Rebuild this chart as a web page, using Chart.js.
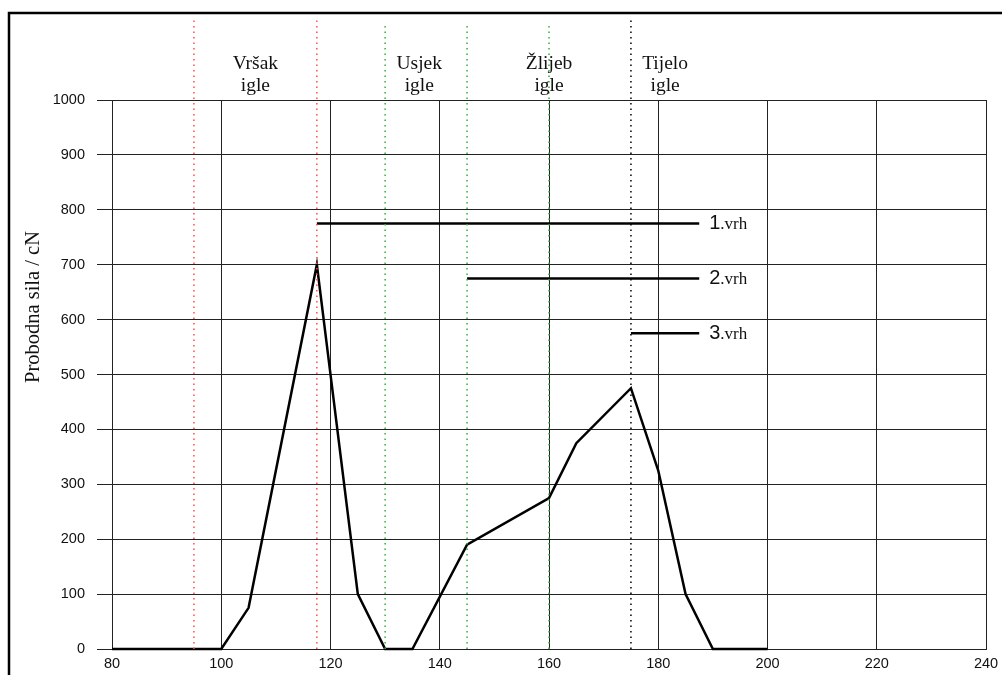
<!DOCTYPE html>
<html>
<head>
<meta charset="utf-8">
<script src="https://cdn.jsdelivr.net/npm/chart.js@4"></script>
<style>
  body { margin: 0; background: #fff; }
  canvas { display: block; }
</style>
</head>
<body>
<canvas id="chart" width="1002" height="675"></canvas>
<script>
// measured force curve (x = position, y = force in cN)
const forceX = [80, 100, 105, 117.5, 125, 130, 135, 145, 160, 165, 175, 180, 185, 190, 200];
const forceY = [0, 0, 75, 700, 100, 0, 0, 190, 275, 375, 475, 325, 100, 0, 0];

// horizontal peak markers
const peakNames = ['1', '2', '3'];
const peakStart = [117.5, 145, 175];
const peakEnd = [187.5, 187.5, 187.5];
const peakLevel = [775, 675, 575];

// vertical zone boundaries
const zoneLineX = [95, 117.5, 130, 145, 160, 175];
const zoneLineTop = [1150, 1150, 1140, 1140, 1140, 1150];
const zoneLineColor = ['#ff4d4d', '#ff4d4d', '#33b033', '#33b033', '#33b033', '#000000'];

// zone names above the plot
const zoneNames = [['Vršak', 'igle'], ['Usjek', 'igle'], ['Žlijeb', 'igle'], ['Tijelo', 'igle']];
const zoneNameX = [106.25, 136.25, 160, 181.25];
const zoneNameY = [1068, 1028];

const xTicks = { min: 80, max: 240, step: 20 };
const yTicks = { min: 0, max: 1000, step: 100 };
const yTitle = 'Probodna sila / cN';

const datasets = [];

zoneLineX.forEach((x, i) => {
    datasets.push({
        data: [{ x: x, y: 0 }, { x: x, y: zoneLineTop[i] }],
        borderColor: zoneLineColor[i],
        borderWidth: 1.5,
        borderDash: [1.5, 4],
        pointRadius: 0,
        showLine: true,
        clip: false
    });
});

peakNames.forEach((n, i) => {
    datasets.push({
        data: [{ x: peakStart[i], y: peakLevel[i] }, { x: peakEnd[i], y: peakLevel[i] }],
        borderColor: '#000',
        borderWidth: 2.5,
        pointRadius: 0,
        showLine: true
    });
});

datasets.push({
    data: forceX.map((x, i) => ({ x: x, y: forceY[i] })),
    borderColor: '#000',
    borderWidth: 2.5,
    pointRadius: 0,
    showLine: true,
    tension: 0,
    clip: false
});

const textPlugin = {
    id: 'textPlugin',
    afterDraw(chart) {
        const ctx = chart.ctx;
        const xs = chart.scales.x;
        const ys = chart.scales.y;
        ctx.save();

        // frame around the figure
        ctx.strokeStyle = '#000';
        ctx.lineWidth = 2.5;
        ctx.beginPath();
        ctx.moveTo(9, 680);
        ctx.lineTo(9, 13);
        ctx.lineTo(1010, 13);
        ctx.stroke();

        // zone names
        ctx.fillStyle = '#111';
        ctx.font = '19.5px "Liberation Serif"';
        ctx.textAlign = 'center';
        ctx.textBaseline = 'alphabetic';
        zoneNames.forEach((lines, i) => {
            const px = xs.getPixelForValue(zoneNameX[i]);
            lines.forEach((t, j) => {
                ctx.fillText(t, px, ys.getPixelForValue(zoneNameY[j]) + 6);
            });
        });

        // peak labels
        ctx.textAlign = 'left';
        ctx.textBaseline = 'middle';
        peakNames.forEach((n, i) => {
            let px = xs.getPixelForValue(peakEnd[i]) + 10;
            const py = ys.getPixelForValue(peakLevel[i]);
            ctx.font = '20px "Liberation Sans"';
            ctx.fillText(n, px, py);
            px += ctx.measureText(n).width;
            ctx.font = '17px "Liberation Serif"';
            ctx.fillText('.vrh', px, py + 1);
        });

        // y axis title
        ctx.font = '20.5px "Liberation Serif"';
        ctx.textAlign = 'center';
        ctx.textBaseline = 'middle';
        ctx.translate(34, 307);
        ctx.rotate(-Math.PI / 2);
        ctx.fillText(yTitle, 0, 0);
        ctx.restore();
    }
};

new Chart(document.getElementById('chart'), {
    type: 'scatter',
    data: { datasets: datasets },
    options: {
        responsive: false,
        animation: false,
        layout: { padding: { top: 100, right: 16, left: 0, bottom: 0 } },
        plugins: { legend: { display: false }, tooltip: { enabled: false } },
        scales: {
            x: {
                type: 'linear',
                min: xTicks.min,
                max: xTicks.max,
                afterFit(scale) {
                    scale.height = 26;
                    scale.paddingLeft = 0;
                    scale.paddingRight = 0;
                },
                ticks: {
                    stepSize: xTicks.step,
                    color: '#111',
                    padding: 6,
                    font: { family: '"Liberation Sans"', size: 14.5 },
                    callback: (v) => String(v)
                },
                grid: { color: '#222', lineWidth: 1, drawTicks: false },
                border: { color: '#222' }
            },
            y: {
                min: yTicks.min,
                max: yTicks.max,
                afterFit(scale) {
                    scale.width = 112;
                    scale.paddingTop = 0;
                    scale.paddingBottom = 0;
                },
                ticks: {
                    stepSize: yTicks.step,
                    color: '#111',
                    padding: 12,
                    font: { family: '"Liberation Sans"', size: 14.5 },
                    callback: (v) => String(v)
                },
                grid: { color: '#222', lineWidth: 1, tickLength: 15 },
                border: { color: '#222' }
            }
        }
    },
    plugins: [textPlugin]
});
</script>
</body>
</html>
